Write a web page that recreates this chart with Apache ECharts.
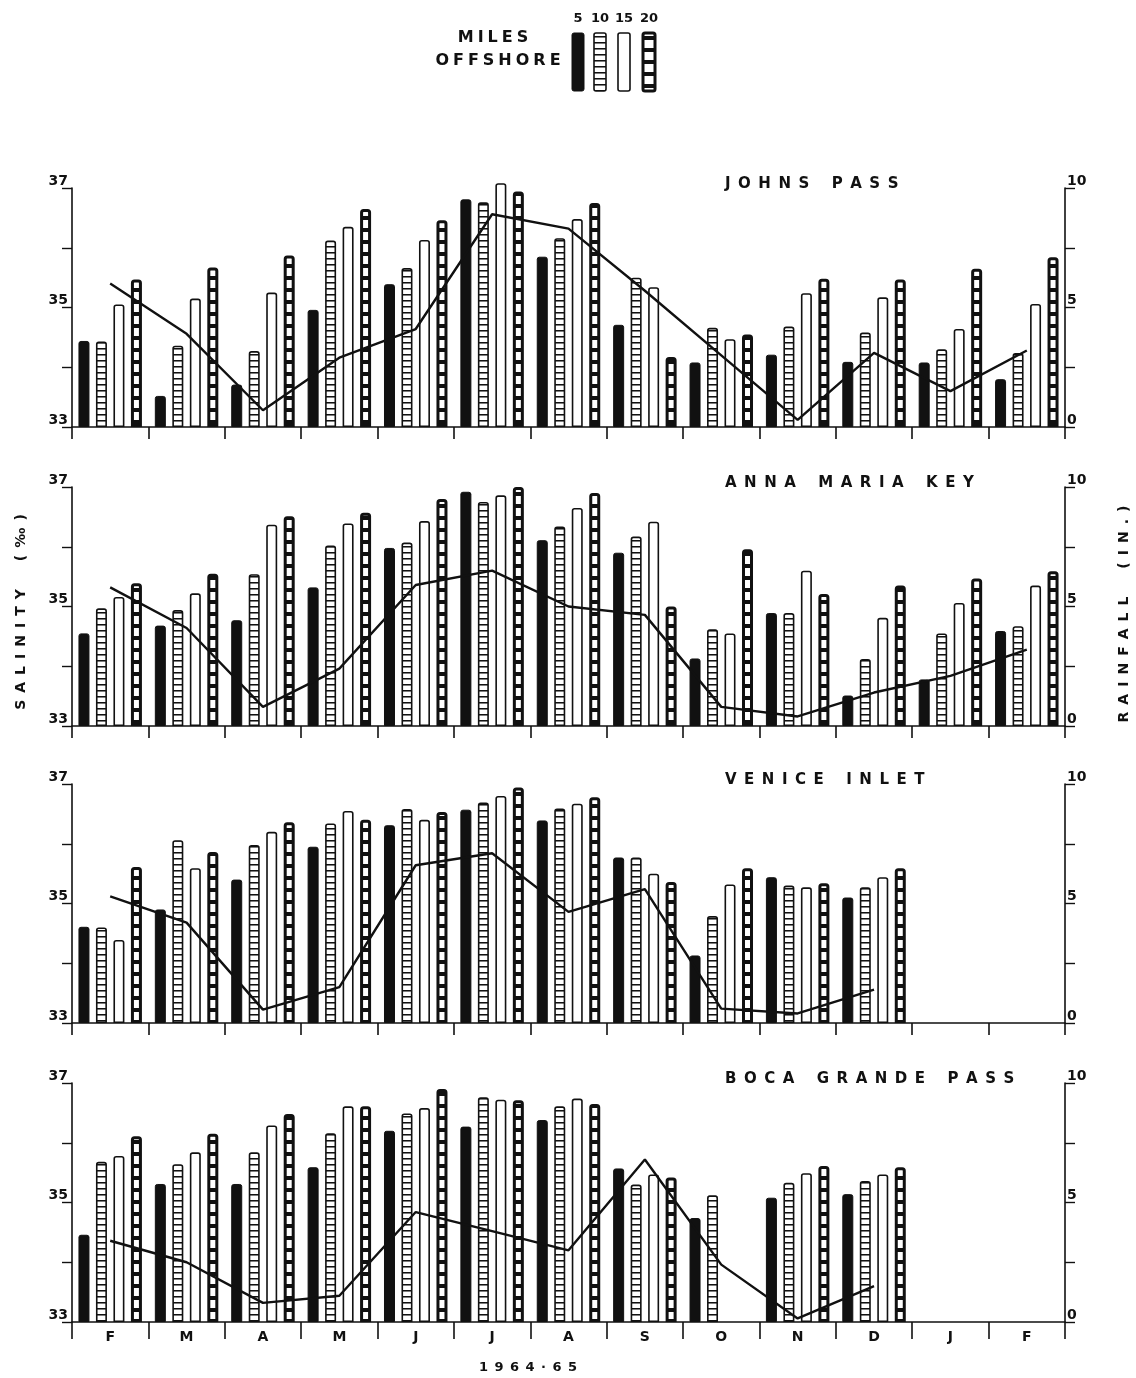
<!DOCTYPE html>
<html><head><meta charset="utf-8">
<script src="https://cdn.jsdelivr.net/npm/echarts@6/dist/echarts.min.js"></script>
<style>html,body{margin:0;padding:0;background:#fff;}#c{width:1136px;height:1378px;}</style>
</head><body><div id="c"></div>
<script>
// ---------- data ----------
const months = ['F','M','A','M','J','J','A','S','O','N','D','J','F'];
const distances = ['5','10','15','20'];
const stations = ['JOHNS PASS','ANNA MARIA KEY','VENICE INLET','BOCA GRANDE PASS'];
const salinityLabels = [33, 35, 37];
const rainLabels = [0, 5, 10];

// Johns Pass
const jp5  = [34.44,33.52,33.71,34.96,35.39,36.81,35.85,34.71,34.08,34.21,34.09,34.08,33.80];
const jp10 = [34.43,34.36,34.27,36.12,35.66,36.76,36.16,35.50,34.66,34.68,34.58,34.30,34.24];
const jp15 = [35.05,35.15,35.25,36.35,36.13,37.08,36.48,35.34,34.47,35.24,35.17,34.64,35.06];
const jp20 = [35.47,35.67,35.87,36.65,36.46,36.94,36.75,34.17,34.55,35.48,35.47,35.65,35.84];
const jpRain = [6.0,3.9,0.7,2.9,4.1,8.9,8.3,5.7,3.0,0.3,3.1,1.5,3.2];
// Anna Maria Key
const am5  = [34.55,34.68,34.77,35.32,35.98,36.92,36.11,35.90,34.13,34.89,33.51,33.78,34.59];
const am10 = [34.97,34.94,35.54,36.02,36.07,36.75,36.34,36.17,34.62,34.89,34.12,34.55,34.67];
const am15 = [35.16,35.22,36.37,36.39,36.43,36.86,36.65,36.42,34.55,35.60,34.81,35.06,35.35];
const am20 = [35.39,35.55,36.51,36.57,36.80,37.00,36.90,35.00,35.96,35.21,35.35,35.47,35.59];
const amRain = [5.8,4.1,0.8,2.4,5.9,6.5,5.0,4.65,0.8,0.4,1.4,2.1,3.2];
// Venice Inlet
const vi5  = [34.61,34.90,35.40,35.95,36.31,36.57,36.39,35.77,34.13,35.44,35.10,null,null];
const vi10 = [34.60,36.06,35.98,36.34,36.58,36.69,36.59,35.77,34.79,35.30,35.27,null,null];
const vi15 = [34.39,35.59,36.20,36.55,36.40,36.80,36.67,35.50,35.32,35.27,35.44,null,null];
const vi20 = [35.61,35.86,36.36,36.40,36.53,36.94,36.78,35.36,35.59,35.34,35.59,null,null];
const viRain = [5.3,4.2,0.56,1.5,6.6,7.1,4.65,5.6,0.6,0.4,1.4,null,null];
// Boca Grande Pass
const bg5  = [34.46,35.31,35.31,35.59,36.20,36.27,36.38,35.57,34.74,35.08,35.14,null,null];
const bg10 = [35.68,35.64,35.84,36.16,36.49,36.76,36.61,35.30,35.12,35.33,35.36,null,null];
const bg15 = [35.78,35.84,36.29,36.61,36.58,36.72,36.74,35.47,null,35.49,35.47,null,null];
const bg20 = [36.11,36.15,36.48,36.61,36.90,36.71,36.65,35.42,null,35.61,35.59,null,null];
const bgRain = [3.4,2.5,0.8,1.1,4.6,3.8,3.0,6.8,2.4,0.15,1.5,null,null];

const salinity = [[jp5,jp10,jp15,jp20],[am5,am10,am15,am20],[vi5,vi10,vi15,vi20],[bg5,bg10,bg15,bg20]];
const rainfall = [jpRain, amRain, viRain, bgRain];

// ---------- styles ----------
const INK = '#111';
const FONT = '"DejaVu Sans", "Liberation Sans", sans-serif';
function makeCanvas(w, h, draw){ const c=document.createElement('canvas'); c.width=w; c.height=h; draw(c.getContext('2d')); return c; }
const pat10 = {image: makeCanvas(4, 6, g => { g.fillStyle='#fff'; g.fillRect(0,0,4,6); g.fillStyle=INK; g.fillRect(0,0,4,1); g.fillStyle='rgba(17,17,17,0.55)'; g.fillRect(0,1,4,1);}), repeat:'repeat'};
const pat20 = {image: makeCanvas(4, 12, g => { g.fillStyle='#fff'; g.fillRect(0,0,4,12); g.fillStyle=INK; g.fillRect(0,0,4,4);}), repeat:'repeat'};
const barStyles = [
  {color: INK, borderColor: INK, borderWidth: 1, borderRadius:[2,2,0,0]},
  {color: pat10, borderColor: INK, borderWidth: 1.6, borderRadius:[2,2,0,0]},
  {color: '#fff', borderColor: INK, borderWidth: 1.6, borderRadius:[2,2,0,0]},
  {color: pat20, borderColor: INK, borderWidth: 3, borderRadius:[2,2,0,0]}
];
function spaced(s, sep, wsep){ return s.split('').map(c => c===' ' ? (wsep||'\u2003') : c).join(sep||'\u2002'); }

const gridTops = [188, 487, 784, 1083];
const gridH = 239;
const grids=[], xAxes=[], yAxes=[], series=[], titles=[];
gridTops.forEach((top, i) => {
  const last = i === gridTops.length - 1;
  grids.push({left: 72, right: 71, top: top, height: gridH});
  xAxes.push({type:'category', gridIndex:i, data: months, boundaryGap:true,
    axisLine:{lineStyle:{color:INK, width:1.6}},
    axisTick:{show:true, length: last?17:12, lineStyle:{color:INK, width:1.6}},
    axisLabel:{show:last, margin:8, fontSize:14, fontWeight:'bold', color:INK, fontFamily:FONT}
  });
  yAxes.push({type:'value', gridIndex:i, position:'left', min:33, max:37, interval:1, startValue:33,
    axisLine:{show:true, lineStyle:{color:INK, width:1.6}},
    axisTick:{show:true, length:10, lineStyle:{color:INK, width:1.4}},
    splitLine:{show:false},
    axisLabel:{margin:4, fontSize:14, fontWeight:'bold', color:INK, fontFamily:FONT, verticalAlign:'bottom',
      formatter: v => salinityLabels.includes(v) ? String(v) : ''}
  });
  yAxes.push({type:'value', gridIndex:i, position:'right', min:0, max:10, interval:2.5,
    axisLine:{show:true, lineStyle:{color:INK, width:1.6}},
    axisTick:{show:true, length:10, lineStyle:{color:INK, width:1.4}},
    splitLine:{show:false},
    axisLabel:{margin:2, fontSize:14, fontWeight:'bold', color:INK, fontFamily:FONT, verticalAlign:'bottom',
      formatter: v => rainLabels.includes(v) ? String(v) : ''}
  });
  salinity[i].forEach((arr, d) => {
    series.push({type:'bar', name: distances[d], xAxisIndex:i, yAxisIndex:2*i, data: arr,
      barWidth: 11, barGap:'59%', clip:false, silent:true, itemStyle: barStyles[d]});
  });
  series.push({type:'line', name:'rain', xAxisIndex:i, yAxisIndex:2*i+1, data: rainfall[i],
    symbol:'none', silent:true, lineStyle:{color:INK, width:2.4}, z:5});
  titles.push({text: spaced(stations[i], '\u2002', '\u2002'), left:720, top: top-16,
    textStyle:{fontSize:15, fontWeight:'bold', color:INK, fontFamily:FONT}});
});

// legend & axis titles (decoration)
const legendX = [572, 594, 618, 643];
const graphic = [];
legendX.forEach((x, d) => {
  const st = barStyles[d];
  graphic.push({type:'rect', shape:{x:x, y:33, width:12, height:58, r:2},
    style:{fill: st.color, stroke: INK, lineWidth: d===3?3:(d===0?1:1.6)}});
  graphic.push({type:'text', x: x+6, y: 19, style:{text: distances[d], font:'bold 13px '+FONT, fill:INK, textAlign:'center', textVerticalAlign:'middle', align:'center', verticalAlign:'middle'}});
});
const ct = {textAlign:'center', textVerticalAlign:'middle', align:'center', verticalAlign:'middle', fill:INK};
graphic.push({type:'text', x:493, y:38, style:Object.assign({text: spaced('MILES','\u2005'), font:'bold 16px '+FONT}, ct)});
graphic.push({type:'text', x:498, y:61, style:Object.assign({text: spaced('OFFSHORE','\u2005'), font:'bold 16px '+FONT}, ct)});
graphic.push({type:'text', x:21, y:612, rotation: Math.PI/2, style:Object.assign({text: spaced('SALINITY (‰)'), font:'bold 14px '+FONT}, ct)});
graphic.push({type:'text', x:1124, y:614, rotation: Math.PI/2, style:Object.assign({text: spaced('RAINFALL (IN.)'), font:'bold 14px '+FONT}, ct)});
graphic.push({type:'text', x:528, y:1368, style:Object.assign({text: spaced('1964·65'), font:'bold 13px '+FONT}, ct)});

const chart = echarts.init(document.getElementById('c'), null, {renderer:'canvas'});
chart.setOption({
  backgroundColor:'#fff', animation:false,
  title: titles, grid: grids, xAxis: xAxes, yAxis: yAxes, series: series, graphic: graphic
});
</script></body></html>
